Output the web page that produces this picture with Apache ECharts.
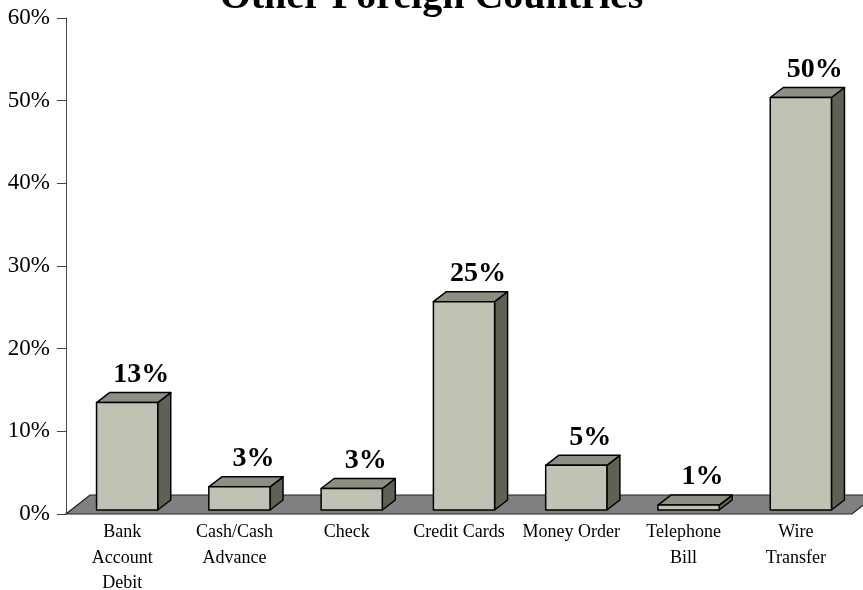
<!DOCTYPE html>
<html>
<head>
<meta charset="utf-8">
<script src="https://cdn.jsdelivr.net/npm/echarts@6/dist/echarts.min.js"></script>
<style>
  html, body { margin: 0; padding: 0; background: #fff; }
  #main { width: 863px; height: 590px; }
</style>
</head>
<body>
<div id="main"></div>
<script>
// categories (line breaks as in the original labels)
var categories = ['Bank\nAccount\nDebit', 'Cash/Cash\nAdvance', 'Check', 'Credit Cards', 'Money Order', 'Telephone\nBill', 'Wire\nTransfer'];
// share of cases, percent
var shares = [13.0, 2.8, 2.6, 25.2, 5.4, 0.6, 49.9];
var yTicks = [0, 10, 20, 30, 40, 50, 60];

var FONT = '"Liberation Serif", "Times New Roman", serif';

var chart = echarts.init(document.getElementById('main'));

// 3D-looking bar: front face, top and right side
function renderBar(params, api) {
    var idx = api.value(0);
    var v = api.value(1);
    var base = api.coord([idx, 0]);
    var top = api.coord([idx, v]);
    var w = api.size([1, 0])[0] * 0.545;
    var ox = 5, oy = -4;      // bar sits a bit into the floor
    var dx = 13, dy = -10;    // bar depth
    var x0 = base[0] - w / 2 + ox, x1 = x0 + w;
    var yb = base[1] + oy, yt = top[1] + oy;
    var stroke = { stroke: '#000', lineWidth: 1.5, lineJoin: 'round' };
    return {
        type: 'group',
        children: [
            { type: 'polygon', shape: { points: [[x1, yb], [x1 + dx, yb + dy], [x1 + dx, yt + dy], [x1, yt]] },
              style: Object.assign({ fill: '#5f6056' }, stroke) },
            { type: 'polygon', shape: { points: [[x0, yt], [x1, yt], [x1 + dx, yt + dy], [x0 + dx, yt + dy]] },
              style: Object.assign({ fill: '#8d8f82' }, stroke) },
            { type: 'rect', shape: { x: x0, y: yt, width: w, height: yb - yt },
              style: Object.assign({ fill: '#c0c3b3' }, stroke) },
            { type: 'text', x: (x0 + x1) / 2 + 14, y: yt + dy - 4,
              style: { text: Math.round(v) + '%', font: 'bold 28px ' + FONT, fill: '#000',
                       textAlign: 'center', textVerticalAlign: 'bottom' } }
        ]
    };
}

// grey floor under the bars
function renderFloor(params, api) {
    var cs = params.coordSys;
    var yb = cs.y + cs.height;
    var dx = 24, dy = -19;
    return {
        type: 'polygon',
        shape: { points: [[cs.x, yb], [cs.x + cs.width, yb], [cs.x + cs.width + dx, yb + dy], [cs.x + dx, yb + dy]] },
        style: { fill: '#808080', stroke: '#222', lineWidth: 1.2 }
    };
}

var option = {
    animation: false,
    title: {
        text: 'Other Foreign Countries',
        left: 'center',
        top: -27,
        textStyle: { fontFamily: FONT, fontWeight: 'bold', fontSize: 40, color: '#000' }
    },
    grid: { left: 66, right: 11, top: 18, bottom: 76, outerBoundsMode: 'none', containLabel: false },
    xAxis: {
        type: 'category',
        data: categories,
        axisLine: { show: false },
        axisTick: { show: false },
        axisLabel: { fontFamily: FONT, fontSize: 18, lineHeight: 25.5, color: '#000', margin: 6, interval: 0 }
    },
    yAxis: {
        type: 'value',
        min: yTicks[0],
        max: yTicks[yTicks.length - 1],
        interval: 10,
        axisLine: { show: true, lineStyle: { color: '#444', width: 1 } },
        axisTick: { show: true, length: 9, lineStyle: { color: '#444' } },
        splitLine: { show: false },
        axisLabel: { fontFamily: FONT, fontSize: 23, color: '#000', margin: 16,
                     formatter: function (v) { return v + '%'; } }
    },
    series: [
        {
            type: 'custom',
            renderItem: renderFloor,
            data: [[0, 0]],
            z: 1,
            silent: true
        },
        {
            type: 'custom',
            renderItem: renderBar,
            data: shares.map(function (s, i) { return [i, s]; }),
            encode: { x: 0, y: 1 },
            z: 2
        }
    ]
};

chart.setOption(option);
</script>
</body>
</html>
